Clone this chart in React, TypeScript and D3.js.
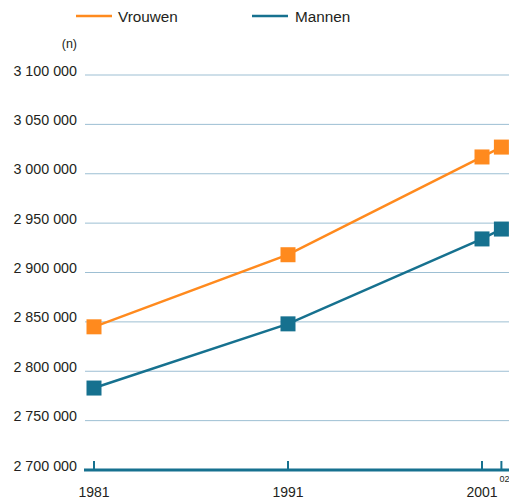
import React from "react";
import * as d3 from "d3";

const years = [1981, 1991, 2001, 2002];
const vrouwen = [2845000, 2918000, 3017000, 3027000];
const mannen = [2783000, 2848000, 2934000, 2944000];
const yTicks = [2700000, 2750000, 2800000, 2850000, 2900000, 2950000, 3000000, 3050000, 3100000];
const seriesNames = ["Vrouwen", "Mannen"];

const ORANGE = "#FF8A1E";
const TEAL = "#16718F";
const GRID = "#9DBFD3";
const FONT = "'Liberation Sans', Arial, Helvetica, sans-serif";

function fmt(v: number) {
  return String(v).replace(/\B(?=(\d{3})+(?!\d))/g, " ");
}

export default function App() {
  const x = d3.scaleLinear().domain([1981, 2001]).range([94, 482]);
  const y = d3.scaleLinear().domain([2700000, 3100000]).range([470, 75]);
  const line = d3
    .line<[number, number]>()
    .x((d) => x(d[0]))
    .y((d) => y(d[1]));
  const series = [
    { name: seriesNames[0], values: vrouwen, color: ORANGE },
    { name: seriesNames[1], values: mannen, color: TEAL },
  ];
  const ms = 15;
  return (
    <svg
      width={509}
      height={500}
      style={{ position: "absolute", left: 0, top: 0, background: "#fff" }}
      fontFamily={FONT}
    >
      {/* legend */}
      <line x1={76} x2={112} y1={16} y2={16} stroke={ORANGE} strokeWidth={2.5} />
      <text x={118} y={22} fontSize={15.3} fill="#231f20">{seriesNames[0]}</text>
      <line x1={252} x2={288} y1={16} y2={16} stroke={TEAL} strokeWidth={2.5} />
      <text x={295} y={22} fontSize={15.3} fill="#231f20">{seriesNames[1]}</text>

      <text x={77} y={48} fontSize={12.5} textAnchor="end" fill="#231f20">(n)</text>

      {yTicks.map((t) => (
        <g key={t}>
          {t !== 2700000 && (
            <line x1={85} x2={509} y1={y(t)} y2={y(t)} stroke={GRID} strokeWidth={1} />
          )}
          <text x={77} y={y(t) + 0.5} fontSize={14.3} textAnchor="end" fill="#231f20">
            {fmt(t)}
          </text>
        </g>
      ))}

      {/* x axis */}
      <line x1={84} x2={509} y1={y(2700000)} y2={y(2700000)} stroke={TEAL} strokeWidth={3} />
      {years.map((yr) => (
        <line key={yr} x1={x(yr)} x2={x(yr)} y1={y(2700000)} y2={y(2700000) - 9} stroke={TEAL} strokeWidth={2} />
      ))}
      {years.slice(0, 3).map((yr) => (
        <text key={yr} x={x(yr)} y={497} fontSize={14} textAnchor="middle" fill="#231f20">
          {yr}
        </text>
      ))}
      <text x={x(2002) + 3} y={482} fontSize={9} textAnchor="middle" fill="#231f20">02</text>

      {series.map((s) => {
        const pts = years.map((yr, i) => [yr, s.values[i]] as [number, number]);
        return (
          <g key={s.name}>
            <path d={line(pts) || ""} fill="none" stroke={s.color} strokeWidth={2.5} />
            {pts.map((p) => (
              <rect
                key={p[0]}
                x={x(p[0]) - ms / 2}
                y={y(p[1]) - ms / 2}
                width={ms}
                height={ms}
                fill={s.color}
              />
            ))}
          </g>
        );
      })}
    </svg>
  );
}
